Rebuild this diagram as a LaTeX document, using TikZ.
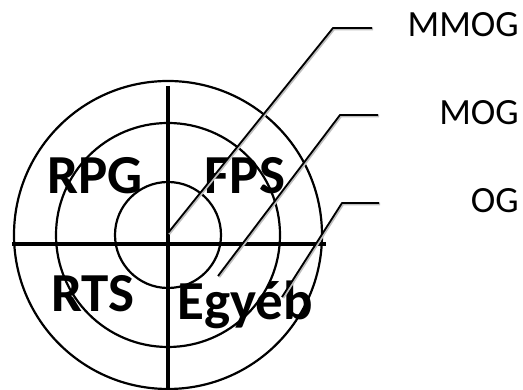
\documentclass[tikz,border=0pt]{standalone}
\usepackage{fontspec}
\setmainfont{Carlito}
\usetikzlibrary{positioning}
\tikzset{
  ring/.style={line width=2.2pt},
  axis line/.style={line width=3.2pt},
  leader/.style={line width=1.8pt, line join=round,
    preaction={draw=black!25, line width=2.6pt, transform canvas={xshift=1pt, yshift=-1pt}}},
  genre/.style={font=\bfseries\fontsize{55}{55}\selectfont, inner sep=0pt, anchor=base},
  tag/.style={font=\fontsize{37}{37}\selectfont, inner sep=0pt, anchor=base east},
}
\begin{document}
\begin{tikzpicture}[x=1pt, y=1pt]
\useasboundingbox (0,0) rectangle (523,390);

\coordinate (centre) at (168,155);
\foreach \r in {154,112,53}
  \draw [ring] (centre) circle (\r);

\coordinate (left-end) at (12,146);
\coordinate (right-end) at (326,146);
\coordinate (top-end) at (168,304);
\coordinate (bottom-end) at (168,0);
\draw [axis line] (left-end) -- (right-end);
\draw [axis line] (top-end) -- (bottom-end);

\foreach \l/\x/\y [count=\i] in {RPG/95/196, FPS/245/196, RTS/93/78, Egyéb/245/70}
  \node [genre] (genre-\i) at (\x,\y) {\l};

% leader lines to the right hand labels
\foreach \t/\ax/\ay/\bx/\by/\ex/\ty [count=\i] in {MMOG/168/157/333/362/372/353, MOG/218/114/340/275/378/265, OG/282/93/342/187/379/177}
{
  \node [tag] (tag-\i) at (519,\ty) {\t};
  \coordinate (tip-\i) at (\ax,\ay);
  \coordinate (bend-\i) at (\bx,\by);
  \coordinate (end-\i) at (\ex,\by);
  \draw [leader] (tip-\i) -- (bend-\i) -- (end-\i);
}

\end{tikzpicture}
\end{document}
